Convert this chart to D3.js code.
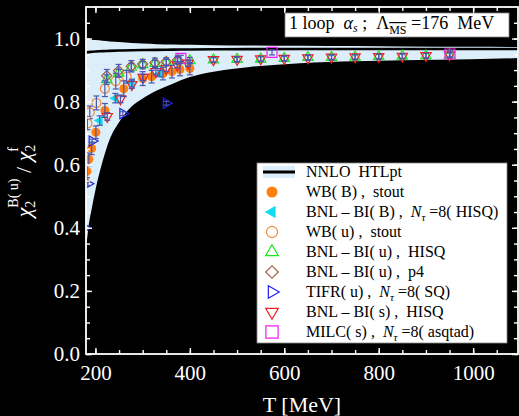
<!DOCTYPE html>
<html>
<head>
<meta charset="utf-8">
<script src="https://cdn.jsdelivr.net/npm/d3@7"></script>
<style>
body { margin: 0; background: #000; }
svg { display: block; }
text { font-family: "Liberation Serif", "DejaVu Serif", serif; white-space: pre; }
</style>
</head>
<body>
<script>
// NNLO HTLpt band (lower / upper edge) and central line
const bandT    = [180, 185, 192, 200, 215, 230, 250, 277, 300, 330, 364, 400, 450, 527, 633, 750, 850, 994, 1095];
const bandLow  = [0.33, 0.40, 0.46, 0.52, 0.61, 0.68, 0.735, 0.785, 0.81, 0.835, 0.857, 0.878, 0.895, 0.91, 0.922, 0.928, 0.931, 0.934, 0.938];
const bandHigh = [0.998, 0.997, 0.996, 0.995, 0.993, 0.991, 0.989, 0.986, 0.984, 0.982, 0.981, 0.980, 0.979, 0.978, 0.977, 0.976, 0.975, 0.974, 0.973];
const htlLine  = [0.956, 0.957, 0.958, 0.959, 0.960, 0.961, 0.962, 0.963, 0.9635, 0.964, 0.965, 0.9655, 0.966, 0.9665, 0.967, 0.967, 0.967, 0.967, 0.967];

// lattice data
const wbB_T   = [177, 182, 186, 192, 201, 220, 260, 300, 319, 343, 362, 379, 400];
const wbB_v   = [0.55, 0.579, 0.617, 0.652, 0.703, 0.772, 0.841, 0.873, 0.879, 0.889, 0.895, 0.902, 0.905];
const wbB_e   = [0.02, 0.02, 0.02, 0.02, 0.02, 0.022, 0.025, 0.022, 0.02, 0.02, 0.02, 0.02, 0.02];

const bnlB_T  = [209, 242, 277, 336];
const bnlB_v  = [0.740, 0.811, 0.859, 0.889];
const bnlB_e  = [0.015, 0.015, 0.012, 0.01];

const wbU_T   = [183, 188, 202, 220, 243, 266];
const wbU_v   = [0.731, 0.766, 0.796, 0.841, 0.865, 0.879];
const wbU_e   = [0.02, 0.02, 0.022, 0.025, 0.025, 0.02];

const bnlU_T  = [224, 249, 276, 300, 326, 350, 374, 400, 450, 500, 550, 600, 650, 700, 750, 800, 850, 900, 950];
const bnlU_v  = [0.870, 0.890, 0.909, 0.917, 0.921, 0.924, 0.930, 0.930, 0.932, 0.934, 0.935, 0.937, 0.940, 0.940, 0.941, 0.943, 0.944, 0.945, 0.947];
const bnlU_e  = [0.015, 0.012, 0.012, 0.01, 0.01, 0.01, 0.01, 0.01, 0.008, 0.008, 0.008, 0.008, 0.008, 0.008, 0.008, 0.008, 0.008, 0.008, 0.008];

const p4_T    = [224, 249, 276, 300, 326, 350, 374];
const p4_v    = [0.882, 0.898, 0.912, 0.919, 0.923, 0.927, 0.932];
const p4_e    = [0.02, 0.02, 0.018, 0.015, 0.015, 0.012, 0.012];

const tifr_T  = [178, 184, 193, 258, 350];
const tifr_v  = [0.40, 0.54, 0.675, 0.762, 0.795];
const tifr_e  = [0.006, 0.006, 0.006, 0.006, 0.006];

const bnlS_T  = [225, 253, 277, 301, 328, 350, 373, 396, 450, 500, 550, 600, 650, 700, 750, 800, 850, 900, 950];
const bnlS_v  = [0.753, 0.809, 0.854, 0.877, 0.895, 0.905, 0.917, 0.922, 0.933, 0.934, 0.936, 0.937, 0.939, 0.941, 0.942, 0.943, 0.944, 0.946, 0.948];
const bnlS_e  = [0.012, 0.012, 0.012, 0.01, 0.01, 0.01, 0.01, 0.01, 0.007, 0.007, 0.007, 0.007, 0.007, 0.007, 0.007, 0.007, 0.007, 0.007, 0.007];

const milc_T  = [381, 574, 951];
const milc_v  = [0.937, 0.956, 0.951];
const milc_e  = [0.01, 0.008, 0.01];

// ticks
const xTicks = [200, 400, 600, 800, 1000];
const yTicks = [0, 0.2, 0.4, 0.6, 0.8, 1.0];

const width = 519, height = 416;
const x = d3.scaleLinear().domain([180, 1095]).range([86, 518]);
const y = d3.scaleLinear().domain([0, 1.1]).range([354, 7]);

const svg = d3.select("body").append("svg")
    .attr("width", width)
    .attr("height", height);

svg.append("rect").attr("width", width).attr("height", height).attr("fill", "#000");

svg.append("clipPath").attr("id", "clip")
  .append("rect")
    .attr("x", x.range()[0]).attr("y", y.range()[1])
    .attr("width", x.range()[1] - x.range()[0])
    .attr("height", y.range()[0] - y.range()[1]);

const plot = svg.append("g").attr("clip-path", "url(#clip)");

// band + line
const bandData = bandT.map((t, i) => ({t, lo: bandLow[i], hi: bandHigh[i], c: htlLine[i]}));

plot.append("path")
  .datum(bandData)
  .attr("d", d3.area().x(d => x(d.t)).y0(d => y(d.lo)).y1(d => y(d.hi)).curve(d3.curveMonotoneX))
  .attr("fill", "#ddeefb");

plot.append("path")
  .datum(bandData)
  .attr("d", d3.line().x(d => x(d.t)).y(d => y(d.c)).curve(d3.curveMonotoneX))
  .attr("fill", "none")
  .attr("stroke", "#000")
  .attr("stroke-width", 2.6);

// series
const series = [
  {T: wbB_T,  v: wbB_v,  e: wbB_e,  shape: "circle",   rot: 0,   fill: true,  color: "#ff8010"},
  {T: bnlB_T, v: bnlB_v, e: bnlB_e, shape: "triangle", rot: -90, fill: true,  color: "#14dcf0"},
  {T: wbU_T,  v: wbU_v,  e: wbU_e,  shape: "circle",   rot: 0,   fill: false, color: "#ee8c3a"},
  {T: bnlU_T, v: bnlU_v, e: bnlU_e, shape: "triangle", rot: 0,   fill: false, color: "#1ee61e"},
  {T: p4_T,   v: p4_v,   e: p4_e,   shape: "diamond",  rot: 45,  fill: false, color: "#a0603c"},
  {T: tifr_T, v: tifr_v, e: tifr_e, shape: "triangle", rot: 90,  fill: false, color: "#2020e6"},
  {T: bnlS_T, v: bnlS_v, e: bnlS_e, shape: "triangle", rot: 180, fill: false, color: "#f01e1e"},
  {T: milc_T, v: milc_v, e: milc_e, shape: "square",   rot: 0,   fill: false, color: "#f020f0"}
];

const symType = {circle: d3.symbolCircle, triangle: d3.symbolTriangle, diamond: d3.symbolSquare, square: d3.symbolSquare};
const symSize = {circle: 64, triangle: 46, diamond: 52, square: 100};

function marker(sel, s, scale) {
  sel.attr("d", d3.symbol().type(symType[s.shape]).size(symSize[s.shape] * scale)())
    .attr("fill", s.fill ? s.color : "none")
    .attr("stroke", s.color)
    .attr("stroke-width", s.fill ? 0 : 1.2);
}

series.forEach(s => {
  const pts = s.T.map((t, i) => ({t, v: s.v[i], e: s.e[i]}));
  plot.append("g").selectAll("path").data(pts).join("path")
    .attr("transform", d => `translate(${x(d.t)},${y(d.v)}) rotate(${s.rot})`)
    .call(marker, s, 1);
});

// error bars on top
const errColor = "#4b55b0";
series.forEach(s => {
  const pts = s.T.map((t, i) => ({t, v: s.v[i], e: s.e[i]}));
  const g = plot.append("g").attr("stroke", errColor).attr("stroke-width", 1.2);
  g.selectAll(".v").data(pts).join("line")
    .attr("x1", d => x(d.t)).attr("x2", d => x(d.t))
    .attr("y1", d => y(d.v - d.e)).attr("y2", d => y(d.v + d.e));
  g.selectAll(".lo").data(pts).join("line")
    .attr("x1", d => x(d.t) - 3).attr("x2", d => x(d.t) + 3)
    .attr("y1", d => y(d.v - d.e)).attr("y2", d => y(d.v - d.e));
  g.selectAll(".hi").data(pts).join("line")
    .attr("x1", d => x(d.t) - 3).attr("x2", d => x(d.t) + 3)
    .attr("y1", d => y(d.v + d.e)).attr("y2", d => y(d.v + d.e));
});

// axes
const xMinor = d3.range(200, 1051, 50);
const yMinor = d3.range(0, 1.06, 0.05);

function styleAxis(g) {
  g.select(".domain").remove();
  g.selectAll("line").attr("stroke", "#fff").attr("stroke-width", 1.4);
}

svg.append("g").attr("transform", "translate(0,354)")
  .call(d3.axisBottom(x).tickValues(xMinor).tickSize(-4).tickFormat("")).call(styleAxis);
svg.append("g").attr("transform", "translate(0,7)")
  .call(d3.axisTop(x).tickValues(xMinor).tickSize(-4).tickFormat("")).call(styleAxis);
svg.append("g").attr("transform", "translate(86,0)")
  .call(d3.axisLeft(y).tickValues(yMinor).tickSize(-4).tickFormat("")).call(styleAxis);
svg.append("g").attr("transform", "translate(518,0)")
  .call(d3.axisRight(y).tickValues(yMinor).tickSize(-4).tickFormat("")).call(styleAxis);

const xAx = svg.append("g").attr("transform", "translate(0,354)")
  .call(d3.axisBottom(x).tickValues(xTicks).tickSize(-6).tickPadding(11).tickFormat(d3.format("d")))
  .call(styleAxis);
svg.append("g").attr("transform", "translate(0,7)")
  .call(d3.axisTop(x).tickValues(xTicks).tickSize(-6).tickFormat("")).call(styleAxis);
const yAx = svg.append("g").attr("transform", "translate(86,0)")
  .call(d3.axisLeft(y).tickValues(yTicks).tickSize(-6).tickPadding(6).tickFormat(d3.format(".1f")))
  .call(styleAxis);
svg.append("g").attr("transform", "translate(518,0)")
  .call(d3.axisRight(y).tickValues(yTicks).tickSize(-6).tickFormat("")).call(styleAxis);

[xAx, yAx].forEach(a => a.selectAll("text")
  .attr("fill", "#fff")
  .attr("font-family", "Liberation Serif, serif")
  .attr("font-size", 21));

// frame
svg.append("rect")
  .attr("x", 86).attr("y", 7).attr("width", 432).attr("height", 347)
  .attr("fill", "none").attr("stroke", "#fff").attr("stroke-width", 1.8);

// axis titles
svg.append("text")
  .attr("x", 302).attr("y", 412)
  .attr("text-anchor", "middle")
  .attr("fill", "#fff").attr("font-size", 22)
  .text("T [MeV]");

const yt = svg.append("text")
  .attr("transform", "translate(31,181) rotate(-90)")
  .attr("text-anchor", "middle")
  .attr("fill", "#fff").attr("font-size", 22);
yt.append("tspan").attr("font-style", "italic").text("χ");
yt.append("tspan").attr("font-size", 14).attr("dy", 4).text("2");
yt.append("tspan").attr("font-size", 14).attr("dx", -7).attr("dy", -17).text("B( u)");
yt.append("tspan").attr("dy", 13).text(" / ");
yt.append("tspan").attr("font-style", "italic").text("χ");
yt.append("tspan").attr("font-size", 14).attr("dy", 4).text("2");
yt.append("tspan").attr("font-size", 14).attr("dx", -7).attr("dy", -17).text("f");

// top-right annotation
svg.append("rect")
  .attr("x", 285).attr("y", 13).attr("width", 224).attr("height", 24)
  .attr("fill", "#fff").attr("stroke", "#888").attr("stroke-width", 0.8);
const ann = svg.append("text").attr("x", 289).attr("y", 29).attr("font-size", 18).attr("fill", "#000");
ann.append("tspan").text("1 loop  ");
ann.append("tspan").attr("font-style", "italic").text("α");
ann.append("tspan").attr("font-style", "italic").attr("font-size", 12).attr("dy", 3).text("s");
ann.append("tspan").attr("dy", -3).text(" ;  Λ");
ann.append("tspan").attr("font-size", 12).attr("dy", 5).attr("text-decoration", "overline").text("MS");
ann.append("tspan").attr("dy", -5).text(" =176  MeV");

// legend
const legendLabels = [
  [{t: "NNLO  HTLpt"}],
  [{t: "WB( B) ,  stout"}],
  [{t: "BNL – BI( B) ,  "}, {t: "N", i: 1}, {t: "τ", i: 1, sub: 1}, {t: " =8( HISQ)"}],
  [{t: "WB( u) ,  stout"}],
  [{t: "BNL – BI( u) ,  HISQ"}],
  [{t: "BNL – BI( u) ,  p4"}],
  [{t: "TIFR( u) ,  "}, {t: "N", i: 1}, {t: "τ", i: 1, sub: 1}, {t: " =8( SQ)"}],
  [{t: "BNL – BI( s) ,  HISQ"}],
  [{t: "MILC( s) ,  "}, {t: "N", i: 1}, {t: "τ", i: 1, sub: 1}, {t: " =8( asqtad)"}]
];

const lg = svg.append("g");
lg.append("rect")
  .attr("x", 257).attr("y", 163).attr("width", 250).attr("height", 180)
  .attr("fill", "#fff").attr("stroke", "#888").attr("stroke-width", 0.8);

const rowY = i => 172 + i * 20;

lg.append("rect").attr("x", 263).attr("y", rowY(0) - 6).attr("width", 32).attr("height", 12).attr("fill", "#ddeefb");
lg.append("line").attr("x1", 263).attr("x2", 295).attr("y1", rowY(0)).attr("y2", rowY(0))
  .attr("stroke", "#000").attr("stroke-width", 3);

series.forEach((s, i) => {
  lg.append("path")
    .attr("transform", `translate(272,${rowY(i + 1)}) rotate(${s.rot})`)
    .call(marker, s, 1.5);
});

legendLabels.forEach((segs, i) => {
  const t = lg.append("text").attr("x", 306).attr("y", rowY(i) + 5)
    .attr("font-size", 16).attr("fill", "#000");
  segs.forEach(sg => {
    const ts = t.append("tspan").text(sg.t);
    if (sg.i) ts.attr("font-style", "italic");
    if (sg.sub) ts.attr("font-size", 11).attr("dy", 4);
    else if (segs.length > 1 && sg.t.startsWith(" =")) ts.attr("dy", -4);
  });
});
</script>
</body>
</html>
